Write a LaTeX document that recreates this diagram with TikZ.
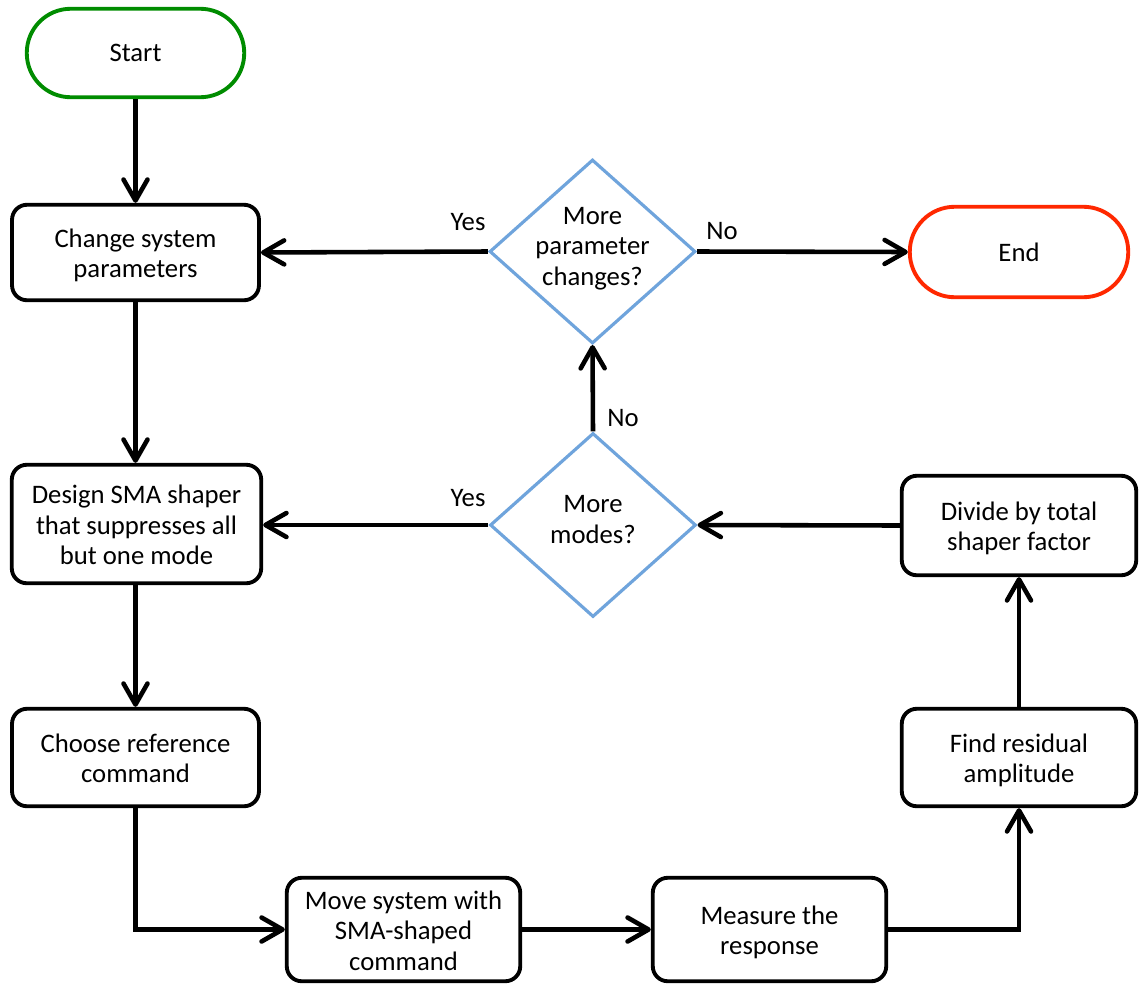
\documentclass[tikz,border=0pt]{standalone}
\usepackage{fontspec}
\setmainfont{Carlito}
\usetikzlibrary{shapes.geometric,arrows.meta}
\definecolor{startgreen}{RGB}{0,140,0}
\definecolor{endred}{RGB}{255,40,0}
\definecolor{decblue}{RGB}{111,164,220}
\newcommand{\lowtext}[1]{\raisebox{-0.08cm}[\height][\depth]{\begin{tabular}{@{}c@{}}#1\end{tabular}}}
\begin{document}
\begin{tikzpicture}[x=0.02cm,y=-0.02cm,
  every node/.style={font=\fontsize{15.2}{17.4}\selectfont},
  procbox/.style={draw=black,line width=2.2pt,rounded corners=0.3cm,fill=white,align=center,inner sep=0pt},
  termbox/.style={draw,line width=2.2pt,fill=white,align=center,inner sep=0pt},
  decbox/.style={draw=decblue,line width=1.8pt,diamond,fill=white,inner sep=0pt,minimum width=4.12cm,minimum height=3.68cm},
  conn/.style={line width=2.6pt,-{Straight Barb[length=0.42cm,width=0.48cm,line cap=round,line join=round]}},
  lbl/.style={inner sep=0pt}
]
\useasboundingbox (0,0) rectangle (1141,987);
\node[termbox,draw=startgreen,minimum width=4.35cm,minimum height=1.77cm,rounded corners=0.88cm] (start) at (135.5,53) {\raisebox{-0.1em}{Start}};
\node[termbox,draw=endred,minimum width=4.37cm,minimum height=1.81cm,rounded corners=0.9cm] (end) at (1019,252) {\raisebox{-0.1em}{End}};
\node[procbox,minimum width=4.94cm,minimum height=1.91cm] (change) at (135.5,252.5) {\lowtext{Change system\\parameters}};
\node[procbox,minimum width=4.99cm,minimum height=2.37cm] (design) at (136.5,524) {\lowtext{Design SMA shaper\\that suppresses all\\but one mode}};
\node[procbox,minimum width=4.94cm,minimum height=1.95cm] (choose) at (135.5,757.5) {\lowtext{Choose reference\\command}};
\node[procbox,minimum width=4.69cm,minimum height=1.99cm] (divide) at (1019,525.5) {\lowtext{Divide by total\\shaper factor}};
\node[procbox,minimum width=4.69cm,minimum height=1.95cm] (find) at (1019,757.5) {\lowtext{Find residual\\amplitude}};
\node[procbox,minimum width=4.67cm,minimum height=2.07cm] (move) at (403.5,929.5) {\lowtext{Move system with\\SMA-shaped\\command}};
\node[procbox,minimum width=4.67cm,minimum height=2.07cm] (measure) at (769.5,929.5) {\lowtext{Measure the\\response}};
\node[decbox] (dparam) at (592.5,251.5) {\makebox[0pt]{\raisebox{-0.25em}{\smash{\begin{tabular}{@{}c@{}}More\\parameter\\changes?\end{tabular}}}}};
\node[decbox] (dmodes) at (593,525) {\makebox[0pt]{\raisebox{-0.25em}{\smash{\begin{tabular}{@{}c@{}}More\\modes?\end{tabular}}}}};

\draw[conn] (start) -- (change);
\draw[conn] (dparam.west) -- (change.east);
\draw[conn] (dparam.east) -- (end.west);
\draw[conn] (change.south) -- (change.south |- design.north);
\draw[conn] (dmodes.north) -- (dparam.south);
\draw[conn] (dmodes.west) -- (dmodes.west -| design.east);
\draw[conn] (divide.west) -- (dmodes.east);
\draw[conn] (design.south -| choose.north) -- (choose.north);
\draw[conn] (choose.south) |- (move.west);
\draw[conn] (move.east) -- (measure.west);
\draw[conn] (measure.east) -| (find.south);
\draw[conn] (find.north) -- (divide.south);

\node[lbl] (yes1) at (468,222) {Yes};
\node[lbl] (no1) at (722,231) {No};
\node[lbl] (no2) at (623,418) {No};
\node[lbl] (yes2) at (468,498) {Yes};
\end{tikzpicture}
\end{document}
